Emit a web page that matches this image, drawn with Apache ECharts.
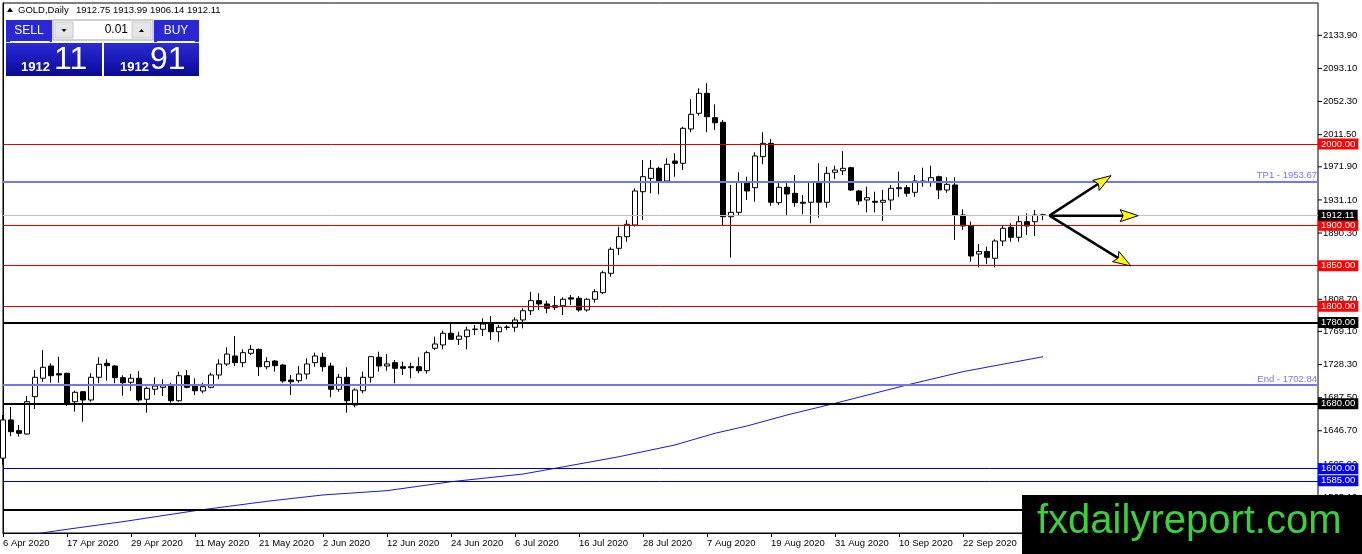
<!DOCTYPE html>
<html><head><meta charset="utf-8">
<script src="https://cdn.jsdelivr.net/npm/echarts@6/dist/echarts.min.js"></script>
<style>html,body{margin:0;padding:0;background:#fff}#c{width:1362px;height:554px}</style>
</head><body><div id="c"></div>
<script>
// Trading days per month (Good Friday 10 Apr absent)
const monthDays = [
  ["Apr", [6,7,8,9,13,14,15,16,17,20,21,22,23,24,27,28,29,30]],
  ["May", [1,4,5,6,7,8,11,12,13,14,15,18,19,20,21,22,25,26,27,28,29]],
  ["Jun", [1,2,3,4,5,8,9,10,11,12,15,16,17,18,19,22,23,24,25,26,29,30]],
  ["Jul", [1,2,3,6,7,8,9,10,13,14,15,16,17,20,21,22,23,24,27,28,29,30,31]],
  ["Aug", [3,4,5,6,7,10,11,12,13,14,17,18,19,20,21,24,25,26,27,28,31]],
  ["Sep", [1,2,3,4,7,8,9,10,11,14,15,16,17,18,21,22,23,24,25,28,29,30]],
  ["Oct", [1,2,5,6]]
];
const dates = [];
monthDays.forEach(([m, ds]) => ds.forEach(d => dates.push(d + " " + m + " 2020")));

// [open, high, low, close]
const ohlc = [
[1613,1666,1605,1660],[1660,1676,1640,1645.5],[1646.8,1653.8,1639.4,1643.6],[1642.7,1689.5,1642,1682.5],
[1688.7,1721.6,1673.5,1712.6],[1711.4,1746.2,1707.1,1724.9],[1726.5,1729.8,1705.9,1714.5],[1717,1737.9,1705.9,1715.4],
[1717.5,1718.3,1677.2,1680.5],[1682.5,1696,1670.2,1694.1],[1694.8,1695.7,1657.9,1684.6],[1684.6,1717.5,1682.5,1712.6],
[1712.6,1737.2,1705.2,1728.6],[1729.8,1734.7,1708.4,1726.9],[1726.5,1727.5,1705.2,1712.1],[1712.1,1715,1689.9,1705.9],
[1706.4,1716.6,1696,1711.4],[1711.4,1720,1682.5,1684.6],[1685.5,1701,1669,1699],[1697.8,1712.6,1690.8,1701.8],
[1700.2,1710.1,1689.5,1702.2],[1702.2,1705.9,1681.3,1683.7],[1683.7,1719.5,1682.5,1714.5],[1714.5,1721.6,1699,1700.2],
[1701.8,1711.3,1690.8,1696],[1695.7,1705.9,1692.8,1701],[1700.2,1718.3,1699,1715.4],[1715.4,1734.7,1710.1,1728.9],
[1728.9,1749.5,1726.5,1741.2],[1738.8,1763.4,1726.5,1730.6],[1730.6,1747,1725,1742.9],[1742.1,1752.4,1740,1747],
[1747,1748,1714.2,1725.6],[1725.6,1737.2,1722.4,1731.8],[1732.6,1733.9,1719.5,1726.9],[1727.7,1728.6,1705.9,1708],
[1709.2,1715.4,1690.8,1707.1],[1708.4,1726.5,1705.9,1716.6],[1716.6,1736,1710.1,1729],[1730.6,1742.9,1725.6,1738.8],
[1737.2,1742.9,1719.5,1725.6],[1726.5,1730.6,1688,1697.8],[1697.8,1716.6,1694.8,1712.6],[1712.6,1724.9,1669,1683.7],
[1678.4,1699,1675.6,1696.9],[1696,1719.5,1692.8,1712.6],[1712.6,1738.8,1705.9,1738],[1737.2,1744.1,1719.5,1726.5],
[1726.5,1741.2,1720.7,1729],[1730.6,1733.9,1705.2,1723.6],[1725.6,1731.8,1715.4,1723.6],[1725.6,1730.6,1711.3,1724.4],
[1725.6,1737.2,1717.5,1720.7],[1720.7,1745.3,1717,1742.9],[1748.3,1762.6,1746.2,1753.6],[1752.4,1770,1747,1766.8],
[1766.8,1778.2,1759,1759.4],[1759.4,1768.7,1752.4,1763.4],[1762.6,1774.9,1747,1770.8],[1771.6,1777,1764.6,1771.9],
[1771.7,1785.2,1763.4,1778.2],[1778.2,1788.1,1758.5,1768.7],[1768.7,1777,1756.4,1774.2],[1774,1777,1770.8,1774.5],
[1774.2,1786.5,1768.7,1783.2],[1783.2,1797.6,1772.9,1794.6],[1794.6,1818,1789.3,1807],[1807,1816.1,1795.5,1802.9],
[1802.9,1807,1791.4,1797.6],[1800.8,1812.7,1795.5,1798.8],[1800.8,1811.1,1789.3,1808.7],[1810.5,1814,1801.7,1808.9],
[1809.9,1812.7,1793.4,1795.5],[1795.5,1809.9,1793.4,1808.7],[1808.7,1821,1804.6,1818],[1816.8,1843.9,1815.2,1841.4],
[1840.7,1872.7,1836.5,1870.3],[1871.5,1898,1863.2,1885.8],[1885.8,1906.4,1879.6,1901.1],[1900.2,1945.4,1898.1,1942.1],
[1941.2,1980.3,1906.4,1959.7],[1957.7,1980.3,1939.3,1970],[1970,1972,1938,1954.4],[1954.4,1982.4,1954,1975],
[1979,1988.5,1959.7,1976.2],[1976.2,2021.3,1968,2019.3],[2018.5,2055.4,2014.4,2036.6],[2037.8,2068.6,2034.9,2062.4],
[2062.4,2074.8,2014.4,2033.6],[2032.4,2048.9,2017.2,2026.2],[2026.7,2029.6,1900.2,1910.4],[1910.4,1949.5,1860,1915.8],
[1915.8,1965.1,1911.7,1952.8],[1952.8,1959.7,1931,1942.1],[1946.2,1989.8,1928.9,1985.2],[1984.4,2014.4,1975,2000.8],
[2000.8,2006.1,1924,1928.2],[1927.7,1953.6,1924.8,1946.7],[1946.7,1953.6,1911.7,1938.4],[1939.2,1961.8,1922.7,1927.7],
[1928.2,1937.2,1913.4,1927],[1928.2,1953.6,1902.3,1952.8],[1952.8,1976.2,1909.2,1928.2],[1928.2,1972,1921.5,1963.9],
[1965.1,1973.3,1956.9,1967.9],[1967.1,1991.4,1961.8,1970],[1970.8,1972,1942.1,1943.3],[1942.1,1943.3,1925,1929.8],
[1931,1947.4,1915.8,1933.8],[1929.4,1941.2,1915.8,1928.2],[1928.2,1943.3,1905,1930.6],[1931,1949.5,1918.7,1945.4],
[1944.9,1965.9,1935,1946.2],[1946.2,1949.5,1935,1939.2],[1940.5,1961.8,1935,1954.4],[1952.8,1970.8,1947.4,1954.4],
[1952.8,1973.3,1947.4,1958.5],[1959.7,1960.9,1932.2,1943.3],[1943.3,1959,1940,1950.3],[1949.5,1959,1881.7,1912.5],
[1912.5,1919.5,1894,1899],[1899,1904.3,1855,1862],[1864.5,1876.8,1848,1867.5],[1867.5,1873.5,1852.2,1860.4],
[1859.2,1882.6,1848,1880.5],[1880.5,1899,1874.3,1896.1],[1897.4,1902.3,1879.6,1885.1],[1885.1,1911.3,1879.6,1904.3],
[1904.3,1914.6,1887.9,1899],[1904.3,1918.7,1886.7,1912.5],[1912.75,1913.99,1906.14,1912.11]
];

// moving average read at sample bars: [barIndex, value]
const maPoints = [[0,1513],[5,1521],[8,1525.3],[15,1534.7],[24,1548.2],[33,1559.8],[40,1567.6],[48,1572.9],
  [56,1583.9],[65,1593.4],[69,1600.4],[77,1614.7],[84,1629.2],[89,1643.6],[93,1652.6],[98,1666.1],
  [104,1680.5],[113,1703.1],[120,1719.5],[130,1737.9]];

const yTicks = [2133.90,2093.10,2052.30,2011.50,1971.90,1931.10,1890.30,1849.50,1808.70,1769.10,1728.30,1687.50,1646.70,1605.90,1565.10,1524.30];

const redLevels = [2000, 1900, 1850, 1800];
const blackLevels = [1780, 1680, 1550];
const blueLevels = [1600, 1585];
const currentPrice = 1912.11;
const tp1Level = 1953.67;
const endLevel = 1702.84;

const headerSymbol = "GOLD,Daily";
const headerOHLC = "1912.75 1913.99 1906.14 1912.11";
const sellPrice = ["1912", "11"];
const buyPrice = ["1912", "91"];
const lotSize = "0.01";

const arrowStart = [130.8, 1911.7];
const arrowTips = [[138.5, 1961], [141.9, 1911.7], [141, 1849.7]];

const X_MAX = 164.375;
const FONT = "Liberation Sans";
const FS = 9.5;

function boxLabel(bg) {
  return { show: true, position: 'end', distance: 0, formatter: p => Number(p.value).toFixed(2),
    color: '#fff', backgroundColor: bg, padding: [1, 3, 0, 3], fontSize: FS, fontFamily: FONT, lineHeight: 10 };
}
const markData = [];
redLevels.forEach(v => markData.push({ yAxis: v, lineStyle: { color: '#d40000', width: 1, type: 'solid' }, label: boxLabel('#ff0000') }));
blackLevels.forEach(v => markData.push({ yAxis: v, lineStyle: { color: '#000', width: 2, type: 'solid' }, label: boxLabel('#000') }));
blueLevels.forEach(v => markData.push({ yAxis: v, lineStyle: { color: '#0000a8', width: 1, type: 'solid' }, label: boxLabel('#0000ff') }));
markData.push({ yAxis: tp1Level, lineStyle: { color: '#7676e6', width: 2, type: 'solid' },
  label: { show: true, position: 'insideEndTop', distance: 1, formatter: 'TP1 - ' + tp1Level.toFixed(2), color: '#7676e6', fontSize: FS, fontFamily: FONT } });
markData.push({ yAxis: endLevel, lineStyle: { color: '#7676e6', width: 2, type: 'solid' },
  label: { show: true, position: 'insideEndTop', distance: 1, formatter: 'End - ' + endLevel.toFixed(2), color: '#7676e6', fontSize: FS, fontFamily: FONT } });
markData.push({ yAxis: currentPrice, lineStyle: { color: '#c0c0c0', width: 1, type: 'solid' }, label: boxLabel('#000') });

const chart = echarts.init(document.getElementById('c'), null, { renderer: 'canvas' });

const blueGrad = new echarts.graphic.LinearGradient(0, 0, 0, 1, [{ offset: 0, color: '#2a2ad8' }, { offset: 1, color: '#0a0a96' }]);
const blueGrad2 = new echarts.graphic.LinearGradient(0, 0, 0, 1, [{ offset: 0, color: '#2a2ad8' }, { offset: 1, color: '#0a0a96' }]);

const graphics = [
  { type: 'polygon', z: 100, shape: { points: [[7, 12], [10, 7.5], [13, 12]] }, style: { fill: '#000' } },
  { type: 'text', z: 100, style: { x: 18, y: 10, text: headerSymbol, fill: '#000', font: FS + 'px ' + FONT, verticalAlign: 'middle' } },
  { type: 'text', z: 100, style: { x: 76, y: 10, text: headerOHLC, fill: '#000', font: FS + 'px ' + FONT, verticalAlign: 'middle' } },
  // sell header
  { type: 'rect', z: 100, shape: { x: 6, y: 20, width: 46, height: 22 }, style: { fill: '#2828d4' } },
  { type: 'line', z: 101, shape: { x1: 10, y1: 41.5, x2: 50, y2: 41.5 }, style: { stroke: '#fff', lineWidth: 1 } },
  { type: 'text', z: 101, style: { x: 29, y: 31, text: 'SELL', fill: '#fff', font: '12px ' + FONT, align: 'center', verticalAlign: 'middle' } },
  // buy header
  { type: 'rect', z: 100, shape: { x: 154, y: 20, width: 45, height: 22 }, style: { fill: '#2828d4' } },
  { type: 'line', z: 101, shape: { x1: 157, y1: 41.5, x2: 195, y2: 41.5 }, style: { stroke: '#fff', lineWidth: 1 } },
  { type: 'text', z: 101, style: { x: 176, y: 31, text: 'BUY', fill: '#fff', font: '12px ' + FONT, align: 'center', verticalAlign: 'middle' } },
  // spinner
  { type: 'rect', z: 100, shape: { x: 53, y: 20, width: 100, height: 20 }, style: { fill: '#fff', stroke: '#a0a0a0', lineWidth: 1 } },
  { type: 'rect', z: 101, shape: { x: 55, y: 22, width: 18, height: 16 }, style: { fill: '#e6e6e6', stroke: '#c8c8c8', lineWidth: 1 } },
  { type: 'rect', z: 101, shape: { x: 132, y: 22, width: 19, height: 16 }, style: { fill: '#e6e6e6', stroke: '#c8c8c8', lineWidth: 1 } },
  { type: 'polygon', z: 102, shape: { points: [[61.5, 29], [66.5, 29], [64, 32]] }, style: { fill: '#000' } },
  { type: 'polygon', z: 102, shape: { points: [[139, 32], [144, 32], [141.5, 29]] }, style: { fill: '#000' } },
  { type: 'text', z: 101, style: { x: 128, y: 30, text: lotSize, fill: '#000', font: '12px ' + FONT, align: 'right', verticalAlign: 'middle' } },
  // price blocks
  { type: 'rect', z: 100, shape: { x: 6, y: 43, width: 96, height: 33 }, style: { fill: blueGrad } },
  { type: 'rect', z: 100, shape: { x: 104, y: 43, width: 95, height: 33 }, style: { fill: blueGrad2 } },
  { type: 'text', z: 101, style: { x: 21, y: 67, text: sellPrice[0], fill: '#fff', font: 'bold 13px ' + FONT, verticalAlign: 'middle' } },
  { type: 'text', z: 101, style: { x: 54, y: 60, text: sellPrice[1], fill: '#fff', font: '32px ' + FONT, verticalAlign: 'middle' } },
  { type: 'text', z: 101, style: { x: 120, y: 67, text: buyPrice[0], fill: '#fff', font: 'bold 13px ' + FONT, verticalAlign: 'middle' } },
  { type: 'text', z: 101, style: { x: 150, y: 60, text: buyPrice[1], fill: '#fff', font: '32px ' + FONT, verticalAlign: 'middle' } },
  // watermark
  { type: 'rect', z: 200, shape: { x: 1022, y: 495, width: 340, height: 59 }, style: { fill: '#000' } },
  { type: 'text', z: 201, style: { x: 1037, y: 522, text: 'fxdailyreport.com', fill: '#3ad13a', font: '40px ' + FONT, verticalAlign: 'middle' } }
];

const option = {
  animation: false,
  textStyle: { fontFamily: FONT },
  grid: { left: 3, right: 44, top: 3, bottom: 21, show: true, borderColor: '#000', borderWidth: 1, backgroundColor: 'transparent' },
  xAxis: {
    type: 'value', min: 0, max: X_MAX, interval: 8,
    axisLine: { show: true, lineStyle: { color: '#000', width: 1 } },
    axisTick: { show: true, length: 4, lineStyle: { color: '#000' } },
    axisLabel: { show: true, align: 'left', margin: 5, fontSize: FS, color: '#000', fontFamily: FONT,
      formatter: v => (Number.isInteger(v) && dates[v]) ? dates[v] : '', showMaxLabel: false },
    splitLine: { show: false }
  },
  yAxis: {
    type: 'value', position: 'right', min: 1520.74, max: 2173.7,
    axisLine: { show: true, lineStyle: { color: '#000', width: 1 } },
    axisTick: { show: false },
    axisLabel: { show: true, margin: 5, fontSize: FS, color: '#000', fontFamily: FONT, customValues: yTicks,
      formatter: v => Number(v).toFixed(2) },
    splitLine: { show: false }
  },
  graphic: graphics,
  series: [
    {
      type: 'line', name: 'MA', data: maPoints, showSymbol: false, symbol: 'none', clip: true, z: 1,
      lineStyle: { color: '#1c1cb4', width: 1 }
    },
    {
      type: 'candlestick', name: 'GOLD', barWidth: 5, clip: true, z: 3,
      data: ohlc.map((r, i) => [i, r[0], r[3], r[2], r[1]]),
      itemStyle: { color: '#fff', color0: '#000', borderColor: '#000', borderColor0: '#000', borderWidth: 1 },
      markLine: { silent: true, symbol: ['none', 'none'], animation: false, precision: 2, data: markData }
    },
    {
      type: 'custom', name: 'arrows', z: 5,
      data: arrowTips.map(t => [arrowStart[0], arrowStart[1], t[0], t[1]]),
      encode: { x: [0, 2], y: [1, 3] },
      renderItem: function (params, api) {
        const p0 = api.coord([api.value(0), api.value(1)]);
        const p1 = api.coord([api.value(2), api.value(3)]);
        const dx = p1[0] - p0[0], dy = p1[1] - p0[1];
        const L = Math.hypot(dx, dy) || 1;
        const ux = dx / L, uy = dy / L, nx = -uy, ny = ux;
        const hl = 18, hw = 6;
        const bx = p1[0] - ux * hl, by = p1[1] - uy * hl;
        return { type: 'group', children: [
          { type: 'line', shape: { x1: p0[0], y1: p0[1], x2: bx + ux * 3, y2: by + uy * 3 }, style: { stroke: '#000', lineWidth: 2.5 } },
          { type: 'polygon', shape: { points: [[p1[0], p1[1]], [bx + nx * hw, by + ny * hw], [bx + ux * 3, by + uy * 3], [bx - nx * hw, by - ny * hw]] },
            style: { fill: '#ffff00', stroke: '#000', lineWidth: 1 } }
        ] };
      }
    },
    {
      // price-axis tick marks at the labelled values
      type: 'custom', name: 'yTicks', z: 4, clip: false, silent: true,
      data: yTicks.map(v => [X_MAX, v]),
      encode: { x: 0, y: 1 },
      renderItem: function (params, api) {
        const p = api.coord([api.value(0), api.value(1)]);
        return { type: 'line', shape: { x1: p[0], y1: p[1], x2: p[0] + 4, y2: p[1] }, style: { stroke: '#000', lineWidth: 1 } };
      }
    }
  ]
};
chart.setOption(option);
</script></body></html>
